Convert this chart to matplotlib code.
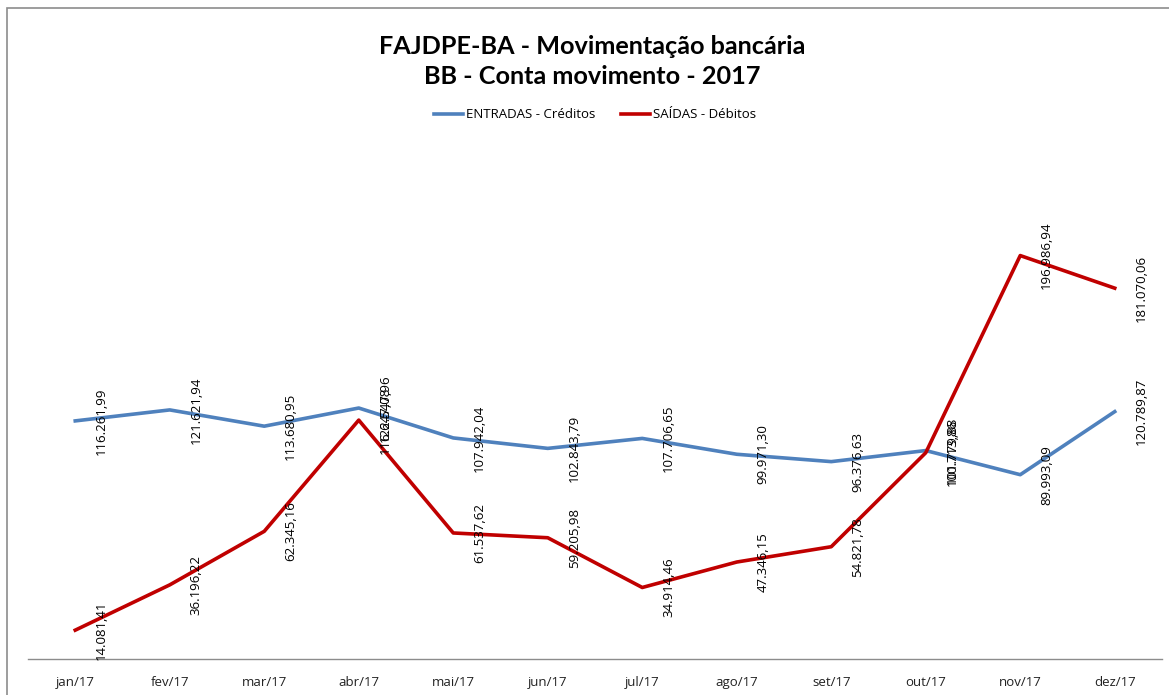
import matplotlib
matplotlib.use("Agg")
import matplotlib.pyplot as plt
from matplotlib.patches import Rectangle

months = ["jan/17", "fev/17", "mar/17", "abr/17", "mai/17", "jun/17",
          "jul/17", "ago/17", "set/17", "out/17", "nov/17", "dez/17"]
entradas = [116261.99, 121621.94, 113680.95, 122547.96, 107942.04, 102843.79,
            107706.65, 99971.30, 96376.63, 101779.88, 89993.09, 120789.87]
saidas = [14081.41, 36196.22, 62345.16, 116647.08, 61537.62, 59205.98,
          34914.46, 47346.15, 54821.78, 100713.86, 196986.94, 181070.06]

def fmt(v):
    s = f"{v:,.2f}"
    return s.replace(",", "X").replace(".", ",").replace("X", ".")

plt.rcParams['font.family'] = ['Open Sans', 'DejaVu Sans']
W, H = 1169, 695
fig = plt.figure(figsize=(W / 100, H / 100), dpi=100)
fig.patch.set_facecolor("white")
fig.add_artist(Rectangle((7 / W, -0.1), 1.2, 1 - 8 / H + 0.1, transform=fig.transFigure,
                         fill=False, edgecolor="#8c8c8c", linewidth=1.2))

ax = fig.add_axes([28 / W, 1 - 659 / H, 1134 / W, (659 - 147) / H])
x = list(range(len(months)))
blue = "#4F81BD"
red = "#C00000"
l1, = ax.plot(x, entradas, color=blue, linewidth=2.6, label="ENTRADAS - Créditos")
l2, = ax.plot(x, saidas, color=red, linewidth=2.6, label="SAÍDAS - Débitos")
ax.set_xlim(-0.5, len(months) - 0.5)
ax.set_ylim(0, 250000)
ax.set_xticks(x)
ax.set_xticklabels(months, fontsize=9.5, color="#222222")
ax.tick_params(axis="x", length=0, pad=12)
ax.set_yticks([])
for s in ["top", "right", "left"]:
    ax.spines[s].set_visible(False)
ax.spines["bottom"].set_color("#8c8c8c")
ax.spines["bottom"].set_linewidth(1.0)
ax.patch.set_alpha(0)

for xi, v in zip(x, entradas):
    ax.annotate(fmt(v), (xi, v), xytext=(19, 0), textcoords="offset points",
                rotation=90, ha="center", va="center", fontsize=9.5, color="black")
for xi, v in zip(x, saidas):
    ax.annotate(fmt(v), (xi, v), xytext=(19, 0), textcoords="offset points",
                rotation=90, ha="center", va="center", fontsize=9.5, color="black")

title_font = ['Lato', 'DejaVu Sans']
fig.text(592 / W, 1 - 46 / H, "FAJDPE-BA - Movimentação bancária", ha="center", va="center",
         fontsize=18.2, fontweight="bold", color="black", family=title_font)
fig.text(592 / W, 1 - 76 / H, "BB - Conta movimento - 2017", ha="center", va="center",
         fontsize=18.2, fontweight="bold", color="black", family=title_font)

fig.legend(handles=[l1, l2], loc="center", bbox_to_anchor=(595 / W, 1 - 115 / H), ncol=2,
           frameon=False, fontsize=9.5, handlelength=2.2, handletextpad=0.2, columnspacing=2.0)

fig.savefig("out.png", dpi=100)
